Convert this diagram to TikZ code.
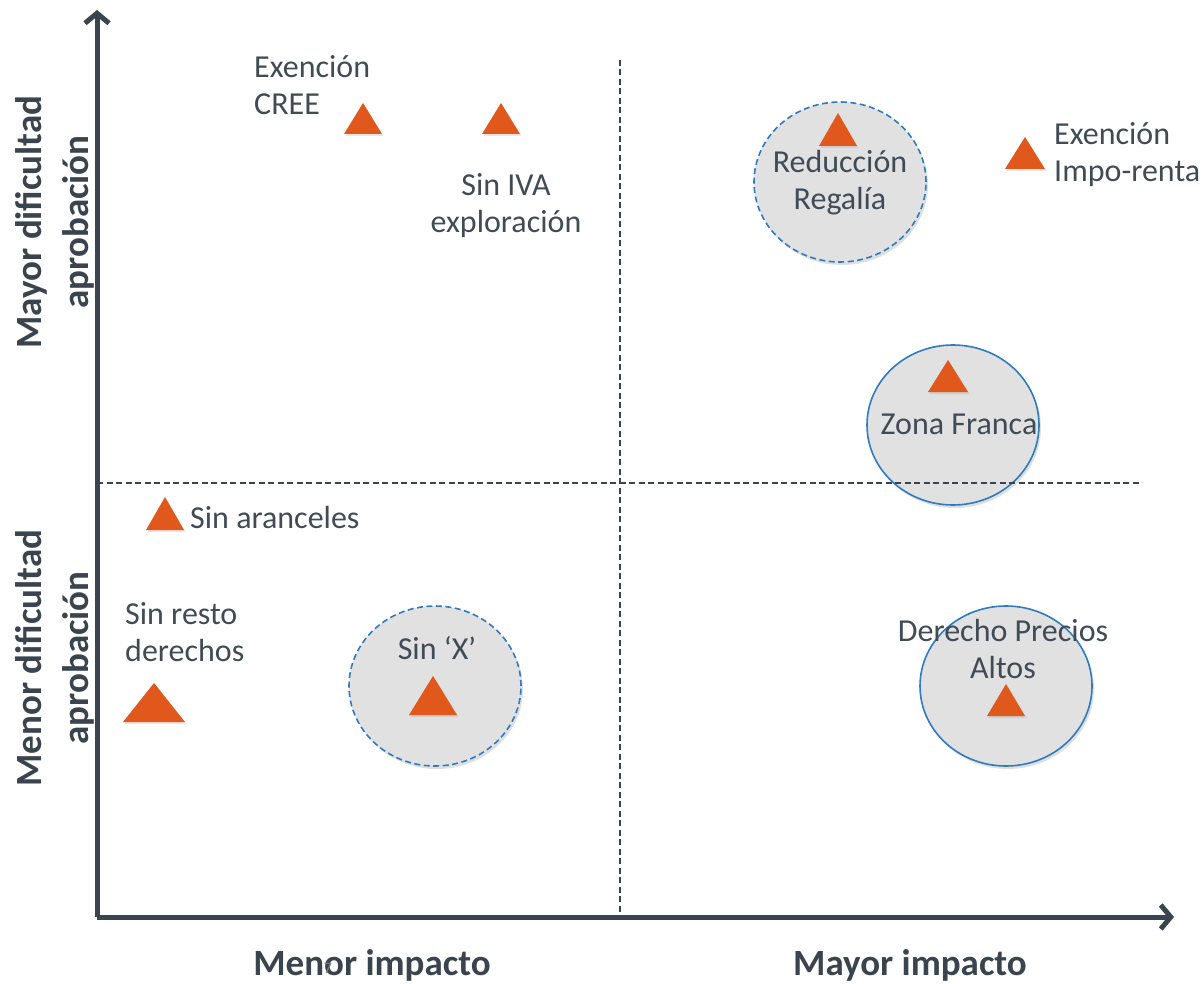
\documentclass[tikz,border=0pt]{standalone}
\usepackage{fontspec}
\setmainfont{Carlito}
\usetikzlibrary{arrows.meta,shapes.geometric,shadows}
\definecolor{axisgray}{HTML}{3A444E}
\definecolor{txtgray}{HTML}{404B56}
\definecolor{trior}{HTML}{E0581B}
\definecolor{zoneblue}{HTML}{2E7BC2}
\definecolor{zonefill}{HTML}{E1E1E1}

\begin{document}
\begin{tikzpicture}[x=1pt,y=-1pt]
    \tikzset{zone/.style={ellipse, draw=zoneblue, line width=1.6pt, fill=zonefill, inner sep=0pt,
            minimum width=172pt, minimum height=160pt,
            drop shadow={opacity=0.25, shadow xshift=2pt, shadow yshift=-3pt}},
        zonedash/.style={zone, dash pattern=on 6pt off 3.5pt},
        lbl/.style={text=txtgray, font=\fontsize{32}{37}\selectfont, inner sep=0pt},
        axlbl/.style={text=axisgray, font=\fontsize{37}{47}\selectfont\bfseries, inner sep=0pt, align=center},
        orangetri/.style={fill=trior, drop shadow={opacity=0.2, shadow xshift=1.5pt, shadow yshift=-2pt}}}
    \useasboundingbox (0,0) rectangle (1202,984);

    %Zonas
    \node[zonedash] (regalia) at (840,182) {};
    \node[zone]     (zona)    at (953,425) {};
    \node[zonedash] (sinx)    at (435,686) {};
    \node[zone]     (precios) at (1006,686) {};

    %Achsen
    \coordinate (origin) at (97,917);
    \coordinate (ytop)   at (97,10);
    \coordinate (xend)   at (1174,917);
    \coordinate (vtop)   at (620,60);
    \coordinate (vbot)   at (620,913);
    \coordinate (hleft)  at (97,483);
    \coordinate (hright) at (1142,483);
    \draw[axisgray, line width=1.4pt, dash pattern=on 6pt off 3.5pt] (vtop) -- (vbot);
    \draw[axisgray, line width=1.4pt, dash pattern=on 6pt off 3.5pt] (hleft) -- (hright);
    \draw[axisgray, line width=5pt, -{Straight Barb[length=10pt,width=24pt]}] (origin) -- (ytop);
    \draw[axisgray, line width=5pt, -{Straight Barb[length=10pt,width=24pt]}] (origin) -- (xend);

    %Dreiecke
    \foreach \x/\y/\w/\h in {363/134/38/31, 501/134/38/31, 838/146/38/33, 1025/169/40/32,
                             948/392/40/32, 165/530/38/33, 154/722/62/39, 433/715/48/39, 1006/716/38/32}
        \fill[orangetri] (\x-\w/2,\y) -- (\x+\w/2,\y) -- (\x,\y-\h) -- cycle;

    %Beschriftung
    \node[lbl, align=left, anchor=west] (cree) at (254,85) {Exención\\CREE};
    \node[lbl, align=center] (iva) at (506,206) {Sin IVA\\exploración};
    \node[lbl, align=center] (regalialbl) at (840,183) {Reducción\\Regalía};
    \node[lbl, align=left, anchor=west] (renta) at (1054,155) {Exención\\Impo-renta};
    \node[lbl] (zonalbl) at (959,424) {Zona Franca};
    \node[lbl, anchor=west] (aranceles) at (190,518) {Sin aranceles};
    \node[lbl, align=left, anchor=west] (resto) at (125,632) {Sin resto\\derechos};
    \node[lbl] (sinxlbl) at (437,648) {Sin ‘X’};
    \node[lbl, align=center] (precioslbl) at (1003,649) {Derecho Precios\\Altos};

    \node[axlbl, rotate=90] (ymayor) at (55,222) {Mayor dificultad\\aprobación};
    \node[axlbl, rotate=90] (ymenor) at (55,658) {Menor dificultad\\aprobación};
    \node[axlbl] (xmenor) at (372,965) {Menor impacto};
    \node[axlbl] (xmayor) at (910,965) {Mayor impacto};
    \node[text=gray, font=\fontsize{16}{16}\selectfont, inner sep=0pt] (pagenum) at (328,968) {7};
\end{tikzpicture}
\end{document}
